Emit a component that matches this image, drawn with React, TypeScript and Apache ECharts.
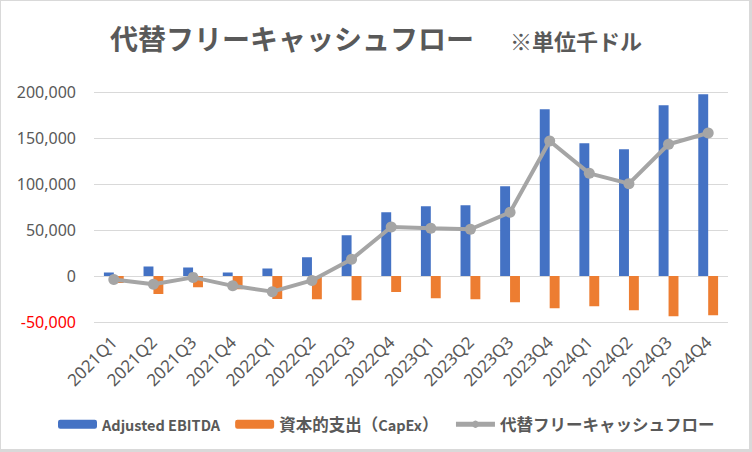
import React, { useEffect, useRef } from "react";
import * as echarts from "echarts";

const categories = [
  "2021Q1", "2021Q2", "2021Q3", "2021Q4",
  "2022Q1", "2022Q2", "2022Q3", "2022Q4",
  "2023Q1", "2023Q2", "2023Q3", "2023Q4",
  "2024Q1", "2024Q2", "2024Q3", "2024Q4",
];
const ebitda = [3800, 10300, 9200, 3900, 8100, 20300, 44200, 69200, 75800, 76900, 97500, 181200, 144200, 137700, 185600, 197500];
const capex = [-7500, -19700, -12300, -14500, -25100, -25300, -26400, -17400, -24300, -25300, -28600, -35100, -32900, -37300, -43800, -42700];
const fcf = [-3900, -9000, -1500, -10700, -17000, -4800, 18100, 53300, 51900, 50800, 69200, 146800, 111600, 100400, 143200, 155400];

const seriesNames = ["Adjusted EBITDA", "資本的支出（CapEx）", "代替フリーキャッシュフロー"];
const titleMain = "代替フリーキャッシュフロー";
const titleUnit = "※単位千ドル";
const yMin = -50000;
const yMax = 200000;
const yStep = 50000;

const FONT = '"Noto Sans CJK JP", "Noto Sans", sans-serif';
const GRAY = "#595959";

// split a label into runs of ASCII (Latin) and non-ASCII (CJK) characters for rich text
function richLabel(name: string): string {
  const runs = name.match(/[\x00-\x7f]+|[^\x00-\x7f]+/g) || [];
  return runs.map((r) => (/^[\x00-\x7f]+$/.test(r) ? "{lat|" + r + "}" : "{cjk|" + r + "}")).join("");
}

export default function App() {
  const ref = useRef<HTMLDivElement>(null);
  useEffect(() => {
    if (!ref.current) return;
    const chart = echarts.init(ref.current, undefined, { renderer: "svg" });
    chart.setOption({
      animation: false,
      backgroundColor: "#ffffff",
      title: [
        {
          text: titleMain,
          left: 105,
          top: 19,
          textStyle: { fontFamily: FONT, fontSize: 28, fontWeight: "bold", color: GRAY },
        },
        {
          text: titleUnit,
          left: 505,
          top: 24,
          textStyle: { fontFamily: FONT, fontSize: 22, fontWeight: "bold", color: GRAY },
        },
      ],
      legend: {
        top: 411,
        left: 53,
        itemWidth: 39,
        itemHeight: 9,
        itemGap: 15,
        data: [
          { name: seriesNames[0] },
          { name: seriesNames[1] },
          { name: seriesNames[2], lineStyle: { width: 5, color: "#a5a5a5" }, itemStyle: { color: "#a5a5a5" } },
        ],
        formatter: (name: string) => richLabel(name),
        textStyle: {
          fontFamily: FONT,
          fontSize: 16,
          fontWeight: "bold",
          color: GRAY,
          rich: {
            lat: { fontFamily: FONT, fontSize: 14.5, fontWeight: "bold", color: GRAY },
            cjk: { fontFamily: FONT, fontSize: 16.5, fontWeight: "bold", color: GRAY },
          },
        },
      },
      grid: { left: 94, right: 24, top: 92, bottom: 130, containLabel: false },
      xAxis: {
        type: "category",
        data: categories,
        axisLine: { show: false, onZero: false },
        axisTick: { show: false },
        splitLine: { show: false },
        axisLabel: {
          rotate: 45,
          margin: 17,
          interval: 0,
          fontFamily: '"Noto Sans", sans-serif',
          fontSize: 17,
          color: GRAY,
        },
      },
      yAxis: {
        type: "value",
        min: yMin,
        max: yMax,
        interval: yStep,
        axisLine: { show: false },
        axisTick: { show: false },
        splitLine: { show: true, lineStyle: { color: "#d9d9d9", width: 1 } },
        axisLabel: {
          margin: 18,
          fontFamily: '"Noto Sans", sans-serif',
          fontSize: 16,
          color: GRAY,
          formatter: (v: number) => {
            const s = Math.abs(v).toLocaleString("en-US");
            return v < 0 ? "{neg|-" + s + "}" : s;
          },
          rich: {
            neg: { color: "#ff0000", fontFamily: '"Noto Sans", sans-serif', fontSize: 16 },
          },
        },
      },
      series: [
        {
          name: seriesNames[0],
          type: "bar",
          data: ebitda,
          itemStyle: { color: "#4472c4" },
          barGap: "0%",
          barCategoryGap: "50%",
        },
        {
          name: seriesNames[1],
          type: "bar",
          data: capex,
          itemStyle: { color: "#ed7d31" },
          barGap: "0%",
          barCategoryGap: "50%",
        },
        {
          name: seriesNames[2],
          type: "line",
          data: fcf,
          symbol: "circle",
          symbolSize: 11,
          lineStyle: { color: "#a5a5a5", width: 4 },
          itemStyle: { color: "#a5a5a5" },
          z: 5,
        },
      ],
    });
    return () => chart.dispose();
  }, []);
  return (
    <div style={{ position: "fixed", left: 0, top: 0, width: 752, height: 452, background: "#fff" }}>
      <div ref={ref} style={{ position: "absolute", left: 0, top: 0, width: 752, height: 452 }} />
      <div
        style={{
          position: "absolute",
          left: 0,
          top: 0,
          width: 752,
          height: 452,
          boxSizing: "border-box",
          borderTop: "1px solid #d9d9d9",
          borderLeft: "1px solid #d9d9d9",
          borderRight: "3px solid #d9d9d9",
          borderBottom: "3px solid #d9d9d9",
          pointerEvents: "none",
        }}
      />
    </div>
  );
}
